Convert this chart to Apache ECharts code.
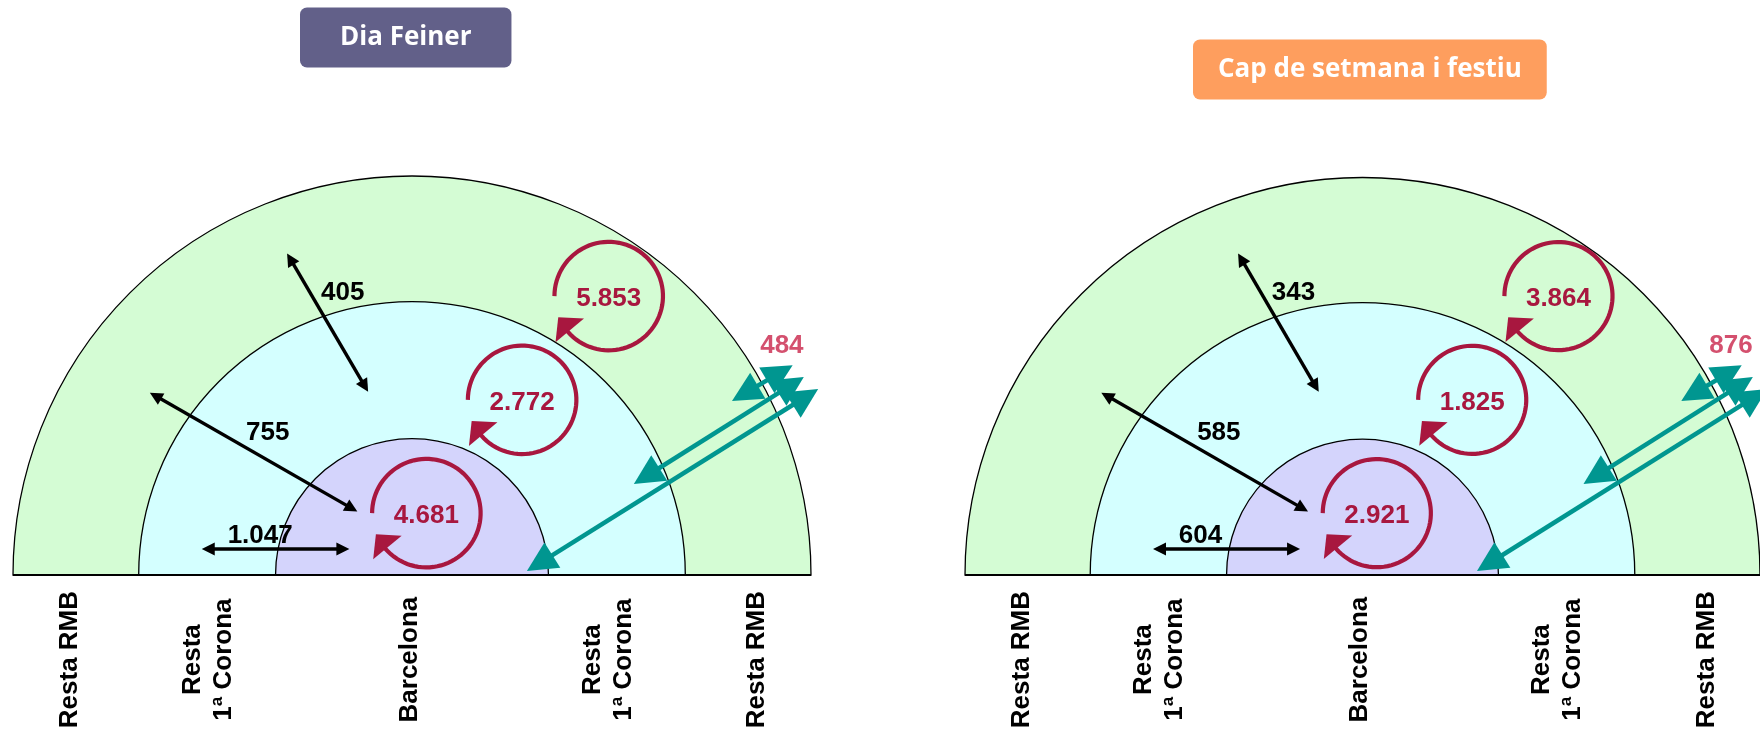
<!DOCTYPE html>
<html>
<head>
<meta charset="utf-8">
<script src="https://cdn.jsdelivr.net/npm/echarts@6/dist/echarts.min.js"></script>
<style>
    html, body {
        margin: 0;
        background: #fff;
    }
    #main {
        width: 1760px;
        height: 731px;
    }
</style>
</head>
<body>
<div id="main"></div>
<script type="text/javascript">
    // dades: viatges (milers)
    var panelTitles = ['Dia Feiner', 'Cap de setmana i festiu'];
    var zoneNames = ['Resta RMB', 'Resta\n1ª Corona', 'Barcelona', 'Resta\n1ª Corona', 'Resta RMB'];
    // interns: Barcelona, Resta 1a Corona, Resta RMB
    var internalTrips = [[4681, 2772, 5853], [2921, 1825, 3864]];
    // entre zones: BCN - 1a Corona, BCN - Resta RMB, 1a Corona - Resta RMB
    var crossTrips = [[1047, 755, 405], [604, 585, 343]];
    // amb l'exterior
    var externalTrips = [484, 876];

    // disseny, en unitats del radi exterior
    var panelLeft = [13, 965];
    var ringRadius = [1, 0.685, 0.342];
    var ringColors = ['#d4fcd4', '#d4ffff', '#d4d4fc'];
    var loopCenters = [[0.036, 0.155], [0.276, 0.439], [0.493, 0.699]];
    var loopRadius = 0.136;
    var crossArrows = [
        [-0.527, 0.065, -0.157, 0.065],
        [-0.657, 0.457, -0.137, 0.159],
        [-0.313, 0.806, -0.110, 0.459]
    ];
    var crossLabelPos = [[-0.462, 0.098], [-0.416, 0.357], [-0.228, 0.708]];
    var externalArrows = [
        [0.288, 0.010, 1.018, 0.466],
        [0.556, 0.228, 0.982, 0.496],
        [0.802, 0.436, 0.954, 0.526]
    ];
    var externalLabelPos = [0.927, 0.574];
    var zoneLabelX = [-0.857, -0.51, -0.006, 0.491, 0.865];
    var zoneLabelY = -0.212;

    var CRIMSON = '#a8173f';
    var TEAL = '#009690';

    function fmt(v) {
        return String(v).replace(/\B(?=(\d{3})+(?!\d))/g, '.');
    }

    function head(tip, from, len, half) {
        var dx = tip[0] - from[0], dy = tip[1] - from[1];
        var d = Math.sqrt(dx * dx + dy * dy);
        var ux = dx / d, uy = dy / d;
        var bx = tip[0] - ux * len, by = tip[1] - uy * len;
        return [[tip[0], tip[1]], [bx - uy * half, by + ux * half], [bx + uy * half, by - ux * half]];
    }

    function doubleArrow(a, b, color, width, len, half) {
        var dx = b[0] - a[0], dy = b[1] - a[1];
        var d = Math.sqrt(dx * dx + dy * dy);
        var ux = dx / d, uy = dy / d;
        var k = len * 0.8;
        return {
            type: 'group',
            children: [{
                type: 'line',
                shape: {x1: a[0] + ux * k, y1: a[1] + uy * k, x2: b[0] - ux * k, y2: b[1] - uy * k},
                style: {stroke: color, lineWidth: width}
            }, {
                type: 'polygon',
                shape: {points: head(a, b, len, half)},
                style: {fill: color}
            }, {
                type: 'polygon',
                shape: {points: head(b, a, len, half)},
                style: {fill: color}
            }]
        };
    }

    function renderRing(params, api) {
        var c = api.coord([0, 0]);
        var r = api.size([api.value(0), 0])[0];
        var children = [{
            type: 'sector',
            shape: {cx: c[0], cy: c[1], r0: 0, r: r, startAngle: Math.PI, endAngle: Math.PI * 2, clockwise: true},
            style: {fill: ringColors[params.dataIndex], stroke: '#000', lineWidth: 1.3}
        }];
        if (params.dataIndex === ringRadius.length - 1) {
            var a = api.coord([-1, 0]), b = api.coord([1, 0]);
            children.push({
                type: 'line',
                shape: {x1: a[0], y1: a[1], x2: b[0], y2: b[1]},
                style: {stroke: '#000', lineWidth: 2.2}
            });
        }
        return {type: 'group', children: children};
    }

    function renderExternal(params, api) {
        var a = api.coord([api.value(0), api.value(1)]);
        var b = api.coord([api.value(2), api.value(3)]);
        return doubleArrow(a, b, TEAL, 4.5, 30, 15);
    }

    function renderCross(params, api) {
        var a = api.coord([api.value(0), api.value(1)]);
        var b = api.coord([api.value(2), api.value(3)]);
        return doubleArrow(a, b, '#000', 3.4, 13, 6.5);
    }

    function loopRenderer(values) {
        return function (params, api) {
            var c = api.coord([api.value(0), api.value(1)]);
            var r = api.size([loopRadius, 0])[0];
            var sweep = 323 / 180 * Math.PI;
            var pts = [];
            for (var k = 0; k <= 80; k++) {
                var t = Math.PI + sweep * k / 80;
                pts.push([c[0] + r * Math.cos(t), c[1] + r * Math.sin(t)]);
            }
            var tri = [[-0.98, 0.85], [-0.93, 0.39], [-0.455, 0.415]].map(function (q) {
                return [c[0] + q[0] * r, c[1] + q[1] * r];
            });
            return {
                type: 'group',
                children: [{
                    type: 'polyline',
                    shape: {points: pts},
                    style: {stroke: CRIMSON, lineWidth: 4.2, fill: null, lineCap: 'butt'}
                }, {
                    type: 'polygon',
                    shape: {points: tri},
                    style: {fill: CRIMSON}
                }, {
                    type: 'text',
                    x: c[0],
                    y: c[1] + 3,
                    style: {
                        text: fmt(values[params.dataIndex]),
                        fill: CRIMSON,
                        fontSize: 26,
                        fontWeight: 'bold',
                        fontFamily: 'Liberation Sans',
                        align: 'center',
                        verticalAlign: 'middle'
                    }
                }]
            };
        };
    }

    function textRenderer(getText, color, align) {
        return function (params, api) {
            var p = api.coord([api.value(0), api.value(1)]);
            return {
                type: 'text',
                x: p[0],
                y: p[1],
                style: {
                    text: getText(params.dataIndex),
                    fill: color,
                    fontSize: 26,
                    fontWeight: 'bold',
                    fontFamily: 'Liberation Sans',
                    align: align,
                    verticalAlign: 'middle'
                }
            };
        };
    }

    function renderZone(params, api) {
        var p = api.coord([api.value(0), api.value(1)]);
        return {
            type: 'text',
            x: p[0],
            y: p[1],
            rotation: Math.PI / 2,
            style: {
                text: zoneNames[params.dataIndex],
                fill: '#000',
                fontSize: 26,
                fontWeight: 'bold',
                fontFamily: 'Liberation Sans',
                lineHeight: 31,
                align: 'center',
                verticalAlign: 'middle'
            }
        };
    }

    var grids = [], xAxes = [], yAxes = [], series = [];
    [0, 1].forEach(function (p) {
        grids.push({left: panelLeft[p], top: 176, width: 798, height: 518.7});
        xAxes.push({gridIndex: p, type: 'value', min: -1, max: 1, show: false});
        yAxes.push({gridIndex: p, type: 'value', min: -0.3, max: 1, show: false});
        var ax = {type: 'custom', xAxisIndex: p, yAxisIndex: p, silent: true};

        series.push(Object.assign({}, ax, {
            renderItem: renderRing,
            data: ringRadius.map(function (r) { return [r, 0]; })
        }));
        series.push(Object.assign({}, ax, {
            renderItem: renderExternal,
            data: externalArrows
        }));
        series.push(Object.assign({}, ax, {
            renderItem: renderCross,
            data: crossArrows
        }));
        series.push(Object.assign({}, ax, {
            renderItem: loopRenderer(internalTrips[p]),
            data: loopCenters
        }));
        series.push(Object.assign({}, ax, {
            renderItem: textRenderer(function (i) { return fmt(crossTrips[p][i]); }, '#000', 'left'),
            data: crossLabelPos
        }));
        series.push(Object.assign({}, ax, {
            renderItem: textRenderer(function () { return fmt(externalTrips[p]); }, '#d4506e', 'center'),
            data: [externalLabelPos]
        }));
        series.push(Object.assign({}, ax, {
            renderItem: renderZone,
            data: zoneLabelX.map(function (x) { return [x, zoneLabelY]; })
        }));
    });

    var titleText = {color: '#fff', fontFamily: 'Open Sans', fontWeight: 'bold', fontSize: 26, lineHeight: 25};

    var myChart = echarts.init(document.getElementById('main'));
    var option = {
        animation: false,
        title: [{
            text: panelTitles[0],
            left: 300,
            top: 8,
            padding: [17, 40],
            backgroundColor: '#626089',
            borderRadius: 7,
            textStyle: titleText
        }, {
            text: panelTitles[1],
            left: 1193,
            top: 40,
            padding: [17, 25],
            backgroundColor: '#fe9e5e',
            borderRadius: 7,
            textStyle: titleText
        }],
        grid: grids,
        xAxis: xAxes,
        yAxis: yAxes,
        series: series
    };
    myChart.setOption(option);
</script>
</body>
</html>
